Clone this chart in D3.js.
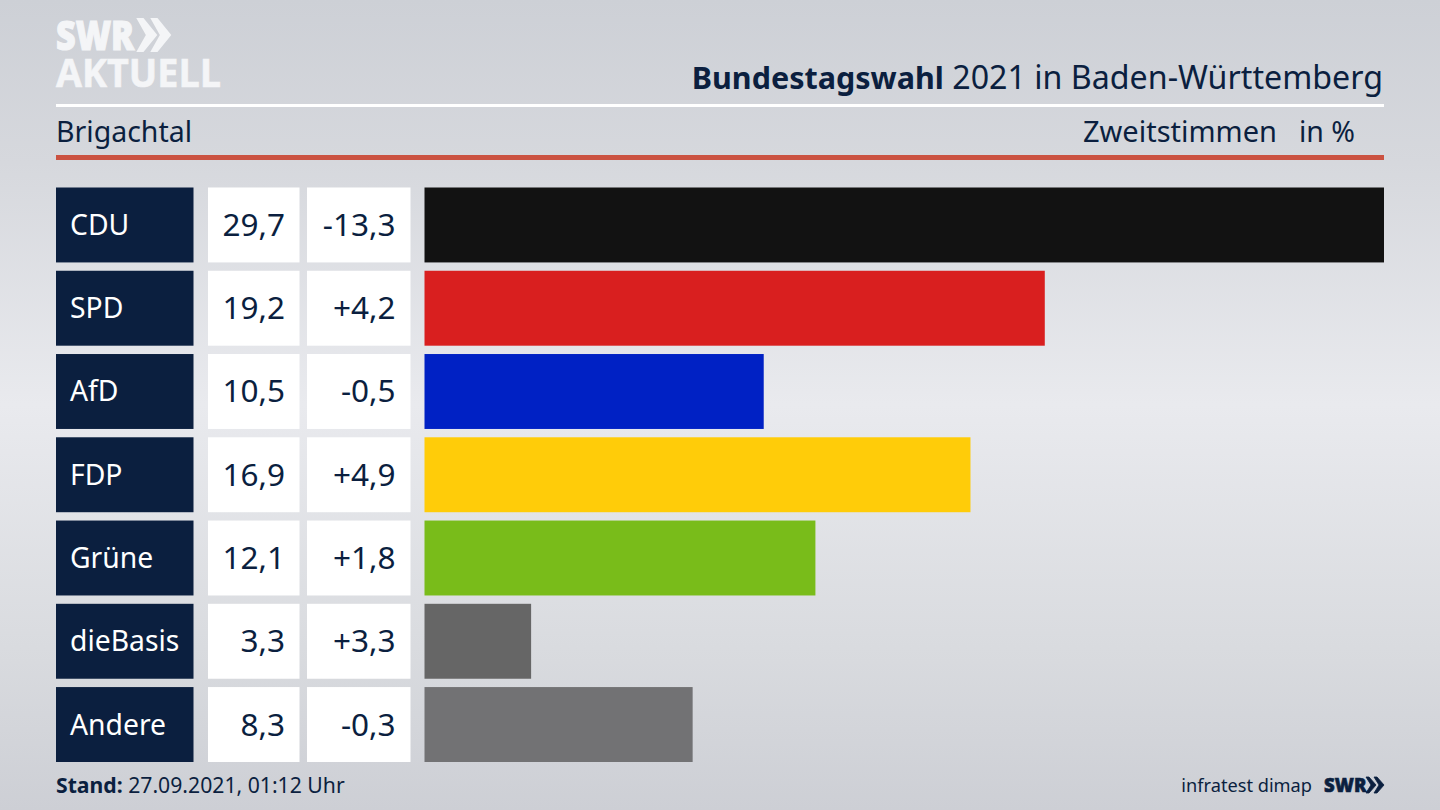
<!DOCTYPE html>
<html><head><meta charset="utf-8">
<script src="https://cdn.jsdelivr.net/npm/d3@7/dist/d3.min.js"></script>
<style>html,body{margin:0;padding:0;background:#dcdee2;overflow:hidden}svg{display:block}text{font-family:"Noto Sans",sans-serif}</style>
</head><body><svg id="c" width="1440" height="810"></svg>
<script>
const parties=["CDU","SPD","AfD","FDP","Grüne","dieBasis","Andere"];
const values=[29.7,19.2,10.5,16.9,12.1,3.3,8.3];
const changes=["-13,3","+4,2","-0,5","+4,9","+1,8","+3,3","-0,3"];
const colors=["#121212","#d91f1f","#0021c4","#ffcc09","#79bc1a","#666666","#727274"];
const navy="#0b1f3f";
const svg=d3.select("#c");
const defs=svg.append("defs");
const g=defs.append("linearGradient").attr("id","bg").attr("x1",0).attr("y1",0).attr("x2",0).attr("y2",1);
[[0,"#cdd0d6"],[0.2,"#d6d8dd"],[0.5,"#e9eaee"],[0.8,"#d9dbdf"],[1,"#cdcfd5"]].forEach(s=>g.append("stop").attr("offset",s[0]).attr("stop-color",s[1]));
svg.append("rect").attr("width",1440).attr("height",810).attr("fill","url(#bg)");

const x=d3.scaleLinear().domain([0,29.7]).range([424.5,1384]);
const y=d3.scaleBand().domain(parties).range([187.5,762]).paddingInner(0.1).paddingOuter(0).align(0);
const fmt=v=>String(v.toFixed(1)).replace(".",",");

// logo
const logo=svg.append("g").attr("fill","#f4f5f7");
const lt=logo.append("text").style("font-family","'Open Sans'").attr("stroke","#f4f5f7");
lt.append("tspan").attr("x",56).attr("y",50).attr("font-size",41).attr("font-weight",800).attr("stroke-width",1.2).attr("textLength",78).attr("lengthAdjust","spacingAndGlyphs").text("SWR");
lt.append("tspan").attr("x",56).attr("y",87).attr("font-size",40).attr("font-weight",700).attr("stroke-width",0.6).attr("textLength",165).attr("lengthAdjust","spacingAndGlyphs").text("AKTUELL");
[0,14].forEach(dx=>logo.append("path").attr("transform",`translate(${dx},0)`).attr("d","M138 19 L143 19 L156 35 L143 51 L138 51 L147 35 Z").attr("stroke","#f4f5f7").attr("stroke-width",2));

// header
const title=svg.append("text").attr("x",1383).attr("y",89).attr("text-anchor","end").attr("font-size",32.2).attr("fill",navy);
title.append("tspan").attr("font-weight",700).attr("font-size",30.5).text("Bundestagswahl");
title.append("tspan").text(" 2021 in Baden-Württemberg");
svg.append("rect").attr("x",56).attr("y",104).attr("width",1328).attr("height",3).attr("fill","#fff");
svg.append("text").attr("x",56).attr("y",142).attr("font-size",28.5).attr("fill",navy).text("Brigachtal");
svg.append("text").attr("x",1277).attr("y",142).attr("text-anchor","end").attr("font-size",29).attr("fill",navy).text("Zweitstimmen");
svg.append("text").attr("x",1355).attr("y",142).attr("text-anchor","end").attr("font-size",28.5).attr("fill",navy).text("in %");
svg.append("rect").attr("x",56).attr("y",155).attr("width",1328).attr("height",5).attr("fill","#cb5241");

// rows
const rows=svg.selectAll("g.row").data(parties).join("g").attr("class","row");
const h=y.bandwidth();
rows.append("rect").attr("x",56).attr("y",d=>y(d)).attr("width",137.5).attr("height",h).attr("fill",navy);
rows.append("rect").attr("x",208).attr("y",d=>y(d)).attr("width",91.5).attr("height",h).attr("fill","#fff");
rows.append("rect").attr("x",307).attr("y",d=>y(d)).attr("width",103.5).attr("height",h).attr("fill","#fff");
rows.append("rect").attr("x",x(0)).attr("y",d=>y(d)).attr("width",(d,i)=>x(values[i])-x(0)).attr("height",h).attr("fill",(d,i)=>colors[i]);
rows.append("text").attr("x",70).attr("y",d=>y(d)+h/2+10).attr("font-size",28.3).attr("fill","#fff").text(d=>d);
rows.append("text").attr("x",285).attr("y",d=>y(d)+h/2+11).attr("text-anchor","end").attr("font-size",31.5).attr("fill",navy).text((d,i)=>fmt(values[i]));
rows.append("text").attr("x",395.5).attr("y",d=>y(d)+h/2+11).attr("text-anchor","end").attr("font-size",31.5).attr("fill",navy).text((d,i)=>changes[i]);

// footer
const st=svg.append("text").attr("x",56).attr("y",793).attr("font-size",21.2).attr("fill",navy);
st.append("tspan").attr("font-weight",700).text("Stand:");
st.append("tspan").text(" 27.09.2021, 01:12 Uhr");
svg.append("text").attr("x",1312).attr("y",792).attr("text-anchor","end").attr("font-size",18.2).attr("fill",navy).text("infratest dimap");
svg.append("text").attr("x",1324).attr("y",791.5).attr("font-size",18.5).attr("font-weight",800).attr("stroke",navy).attr("stroke-width",0.6).attr("fill",navy).style("font-family","'Open Sans'").text("SWR");
[0,8].forEach(dx=>svg.append("path").attr("transform",`translate(${dx},0)`).attr("d","M1366 777 L1369 777 L1376 785 L1369 793 L1366 793 L1371 785 Z").attr("fill",navy).attr("stroke",navy).attr("stroke-width",0.8));
</script></body></html>
